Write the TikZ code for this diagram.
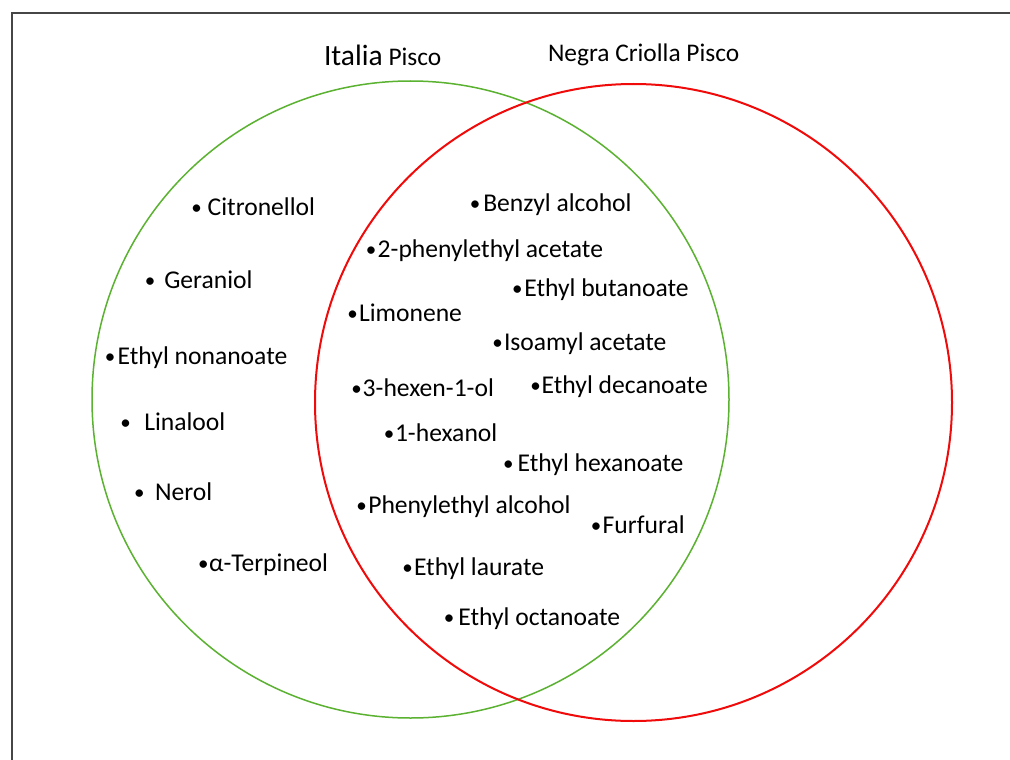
\documentclass[tikz,border=0pt]{standalone}
\usepackage{fontspec}
\setmainfont{Carlito}
\definecolor{vgreen}{RGB}{90,178,48}
\definecolor{vred}{RGB}{240,10,10}
\definecolor{framegray}{RGB}{70,70,70}
\newcommand\bul[1]{\llap{\makebox[0pt]{\raisebox{1pt}{\scalebox{0.82}{•}}}\hspace{#1pt}}}
\tikzset{
  item/.style={anchor=base west, inner sep=0pt, outer sep=0pt, font=\fontsize{25.6}{30}\selectfont},
  settitle/.style={anchor=base west, inner sep=0pt, outer sep=0pt, font=\fontsize{25.4}{30}\selectfont},
  setcircle/.style={circle, inner sep=0pt, outer sep=0pt, minimum size=637pt},
}
\begin{document}
\begin{tikzpicture}[x=1pt,y=-1pt]
\useasboundingbox (0,0) rectangle (1010,760);
\fill[white] (0,0) rectangle (1010,760);
% frame
\coordinate (fbl) at (12,770);
\coordinate (ftl) at (12,13);
\coordinate (ftr) at (1020,13);
\draw[framegray, line width=2pt] (fbl) -- (ftl) -- (ftr);
% circles
\node[setcircle, draw=vgreen, line width=1.5pt] (italia) at (410.5,399.5) {};
\node[setcircle, draw=vred, line width=2pt] (negra) at (633.5,402.5) {};
% titles
\node[settitle] (t1) at (324,65.7) {{\fontsize{29.5}{32}\selectfont Italia} Pisco};
\node[settitle] (t2) at (548,61.7) {Negra Criolla Pisco};
% Italia only
\node[item] (a1) at (207.7,215) {\bul{11}Citronellol};
\node[item] (a2) at (164.3,288) {\bul{14.3}Geraniol};
\node[item] (a3) at (117.7,364) {\bul{7.7}Ethyl nonanoate};
\node[item] (a4) at (144.3,430.7) {\bul{18.6}Linalool};
\node[item] (a5) at (155,500) {\bul{15.7}Nerol};
\node[item] (a6) at (209,571.7) {\bul{5.7}α-Terpineol};
% shared
\node[item] (b1) at (483.3,211.7) {\bul{8.3}Benzyl alcohol};
\node[item] (b2) at (377.7,257.3) {\bul{6.7}2-phenylethyl acetate};
\node[item] (b3) at (524.3,296) {\bul{7}Ethyl butanoate};
\node[item] (b4) at (359,321) {\bul{6.3}Limonene};
\node[item] (b5) at (504,350) {\bul{6.3}Isoamyl acetate};
\node[item] (b6) at (362.7,396.7) {\bul{6}3-hexen-1-ol};
\node[item] (b7) at (541.7,393.3) {\bul{6}Ethyl decanoate};
\node[item] (b8) at (395,441.7) {\bul{6}1-hexanol};
\node[item] (b9) at (517.7,471.7) {\bul{9.4}Ethyl hexanoate};
\node[item] (b10) at (368.3,513.3) {\bul{6.6}Phenylethyl alcohol};
\node[item] (b11) at (602.7,533.3) {\bul{6.7}Furfural};
\node[item] (b12) at (414,575) {\bul{6.3}Ethyl laurate};
\node[item] (b13) at (458.3,625.7) {\bul{9.3}Ethyl octanoate};
\end{tikzpicture}
\end{document}
